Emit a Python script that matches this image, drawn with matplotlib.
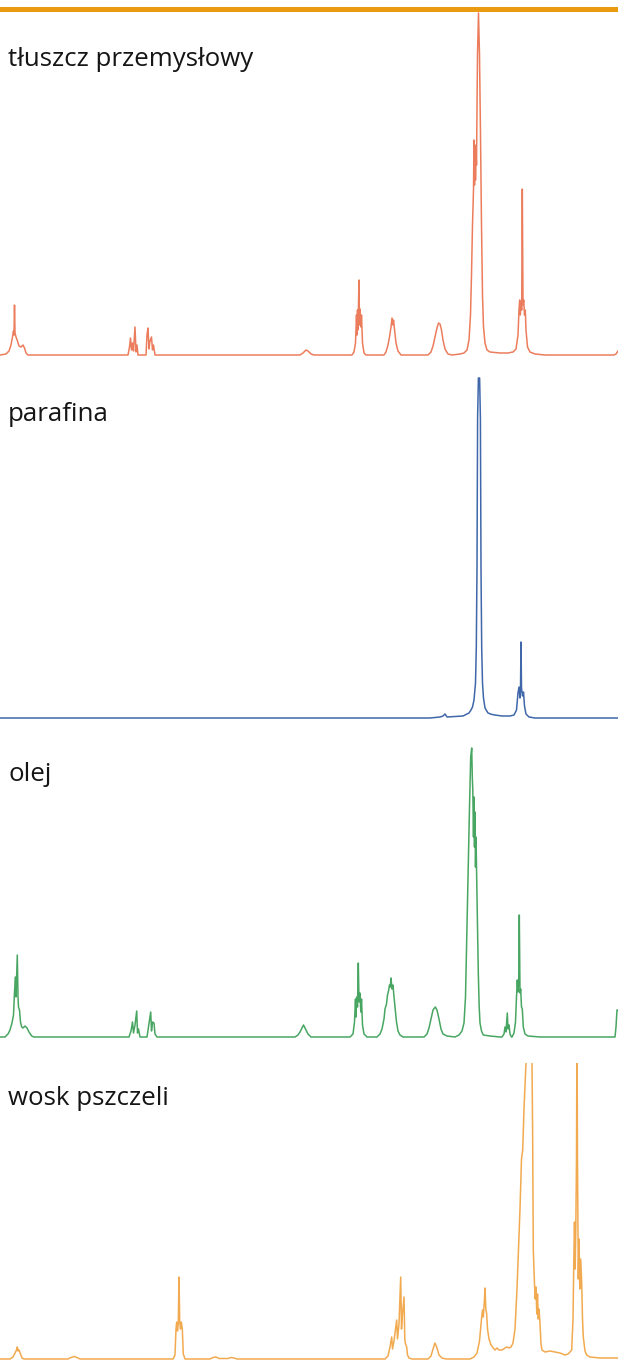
import matplotlib.pyplot as plt
from matplotlib.patches import Rectangle

# ------------------------------------------------------------
# Four 1H NMR spectra.
# x = point along the (reversed) shift axis, y = intensity above baseline
# ------------------------------------------------------------

labels = ["tłuszcz przemysłowy", "parafina", "olej", "wosk pszczeli"]

fat_x = [0, 6, 9, 11, 12.5, 13.5, 14, 14.5, 15, 16, 17.5, 19, 21, 23, 24.5, 26, 28,
         128, 129.5, 130.5, 131.5, 132.5, 133.5, 135, 136, 137, 138,
         146, 147, 148, 149, 150, 151.5, 152.5, 153.5, 155,
         300, 303, 306, 308, 311, 314,
         352, 354, 355.5, 356.5, 357, 357.5, 358, 359, 359.5, 360, 361, 361.5, 362.5, 364, 366,
         384, 386, 388, 389.5, 391, 392, 393, 393.5, 394.5, 396, 398, 401,
         428, 431, 433, 435, 437, 438.5, 440, 441.5, 443, 445, 448, 452,
         460, 464, 467, 469, 470.5, 471.5, 472.5, 473.5, 474, 474.5, 475, 475.5, 476, 476.5,
         477.5, 478.5, 479.5, 480.5, 481.5, 482.5, 483.5, 485, 487, 490, 500, 508,
         513, 516, 518, 519, 519.7, 520.3, 521, 521.7, 522.3, 523, 523.7, 524.5, 525.3, 526,
         527.5, 530, 535, 545, 614, 616, 618]
fat_y = [0, 1, 4, 10, 18, 24, 20, 50, 22, 18, 14, 9, 8, 10, 7, 2, 0,
         0, 8, 17, 5, 12, 4, 28, 3, 10, 0,
         0, 20, 27, 6, 14, 18, 5, 10, 0,
         0, 2, 5, 4, 1, 0,
         0, 3, 12, 40, 20, 45, 25, 75, 30, 46, 28, 40, 12, 2, 0,
         0, 3, 10, 18, 28, 37, 30, 35, 26, 12, 4, 0,
         0, 3, 9, 18, 27, 32, 31, 25, 15, 6, 1, 0,
         1, 2, 5, 15, 40, 80, 130, 165, 215, 170, 210, 175, 205, 190,
         300, 342, 300, 220, 130, 60, 28, 12, 5, 3, 2, 2,
         3, 6, 20, 45, 55, 40, 52, 45, 166, 50, 55, 40, 45, 25,
         8, 3, 1, 0, 0, 1, 4]

paraffin_x = [0, 430, 440, 443, 445, 447, 455, 463, 467, 469, 471, 472.5, 474, 475.5,
              476.3, 477, 477.6, 478.4, 479.6, 480.4, 481, 481.7, 482.5, 483.5, 485, 488,
              492, 495, 502, 510, 514, 516.5, 518, 519, 520, 520.5, 521, 521.5, 522.5,
              523.5, 524.5, 526, 529, 535, 618]
paraffin_y = [0, 0, 1, 2, 4, 1, 1.5, 2, 4, 5, 8, 11, 18, 35,
              70, 150, 300, 340, 340, 300, 150, 70, 35, 20, 10, 5,
              3.5, 3, 2, 2, 3, 8, 25, 31, 20, 28, 76, 30, 22,
              26, 12, 4, 1, 0, 0]

oil_x = [0, 5, 8, 10, 12, 13.5, 14.5, 15.5, 16, 16.5, 17.3, 18, 18.5, 19.5, 20.5, 21.7,
         23, 25, 27, 29, 31.7, 34,
         129, 131, 132.5, 133.5, 135, 136.7, 137.5, 138.5, 140,
         147, 148.5, 150.7, 151.5, 152.5, 154, 155, 157,
         295, 298, 300, 302, 303.5, 305, 306.5, 308, 311,
         350, 353, 354.5, 355.5, 356, 356.7, 357.5, 358.3, 359, 360, 360.8, 361.5, 362.5, 364, 367,
         377, 380, 382, 384, 385, 386.5, 387.5, 388.5, 389.5, 390.3, 391, 392, 393, 394, 395,
         396.5, 398, 400, 403,
         424, 427, 429, 431, 433, 435.3, 437, 439, 441, 443, 447,
         455, 459, 462, 464, 465.5, 466.7, 468, 469.5, 470.7, 471.7, 472.3, 472.8, 473.5, 474,
         474.5, 475, 475.5, 476, 476.7, 477.5, 478.3, 479.2, 480, 481.5, 483.3, 490, 500,
         502, 504, 505, 506, 507.3, 508, 509, 510, 511.5,
         512, 514, 515.5, 516.5, 517.3, 518, 518.7, 519.3, 520, 520.7, 521.5, 522.3, 523.3,
         525, 528, 540, 615, 616, 617, 618]
oil_y = [0, 0, 3, 7, 14, 22, 45, 60, 40, 55, 82, 40, 30, 27, 15, 10,
         9, 11, 9, 5, 1, 0,
         0, 6, 15, 4, 12, 26, 4, 8, 0,
         0, 10, 25, 6, 15, 14, 3, 0,
         0, 2, 5, 9, 12, 9, 6, 3, 0,
         0, 3, 15, 38, 20, 40, 30, 74, 35, 44, 25, 38, 12, 3, 0,
         0, 3, 8, 18, 28, 33, 42, 46, 52, 50, 59, 48, 52, 40, 30,
         15, 6, 2, 0,
         0, 3, 9, 18, 27, 30, 27, 18, 8, 3, 1,
         0, 2, 6, 14, 40, 97, 160, 230, 280, 289, 260, 247, 200, 240,
         190, 225, 170, 200, 157, 110, 64, 30, 14, 6, 2, 1, 0,
         0, 3, 10, 5, 24, 8, 12, 3, 0,
         0, 4, 15, 40, 57, 45, 55, 122, 44, 48, 30, 28, 10,
         3, 1, 0, 0, 10, 27, 27]

wax_x = [0, 10, 13, 15, 16.5, 17.3, 18, 19, 20.5, 22, 24,
         68, 71, 74, 77, 80,
         173, 175, 176, 176.7, 177.5, 178.3, 179, 179.7, 180.5, 181.3, 182.3, 183.3, 185,
         210, 213, 216, 219, 228, 231, 234, 237,
         385, 388, 390, 391.7, 392.5, 394, 395.5, 396.7, 397.5, 399, 400.7, 401.5, 402.5,
         404, 404.8, 405.5, 406.7, 407.5, 409, 412,
         428, 431, 433, 435, 437, 439, 442, 446,
         470, 474, 477, 479.5, 481.5, 482.5, 483.3, 484.2, 485, 485.8, 486.7, 487.5, 489,
         491, 493.3, 495, 497, 499, 502, 505, 507, 509, 511, 513, 515, 517, 518.5, 520,
         521.5, 522.7, 524, 526, 527.5, 530.5, 532, 532.6, 533.3, 534.5, 535.2, 536, 536.8,
         537.5, 538.3, 539, 540, 541, 542, 545, 550, 555, 560, 565, 568, 570, 571.7, 573,
         574, 574.5, 575.2, 575.8, 576.5, 577, 577.5, 578.3, 579, 579.8, 580.7, 581.7,
         582.5, 583.3, 585, 586.7, 590, 600, 618]
wax_y = [0, 0, 2, 6, 9, 12, 8, 9, 5, 1, 0,
         0, 1.5, 2.5, 1.5, 0,
         0, 4, 30, 37, 28, 36, 82, 38, 30, 37, 30, 5, 0,
         0, 1.5, 2, 0.5, 0.5, 1.5, 1, 0,
         0, 3, 12, 22, 10, 18, 30, 39, 20, 35, 82, 30, 45,
         62, 20, 15, 12, 4, 1, 0,
         0, 3, 10, 16, 11, 4, 1, 0,
         0, 2, 6, 18, 40, 49, 42, 55, 71, 50, 45, 30, 20,
         14, 11, 9, 11, 9, 9, 11, 12, 11, 12, 16, 30, 70, 110, 150,
         200, 209, 250, 296, 340, 340, 296, 230, 109, 75, 60, 72, 45,
         65, 40, 50, 36, 15, 9, 7, 8, 7, 6, 4, 5, 7, 9, 40,
         110, 137, 90, 130, 200, 340, 200, 80, 120, 70, 100, 76,
         40, 22, 8, 4, 2, 1, 1]

spectra = [(fat_x, fat_y), (paraffin_x, paraffin_y), (oil_x, oil_y), (wax_x, wax_y)]
colors = ["#EC7D5C", "#3F67AA", "#48A662", "#F2AA50"]

# ------------------------------------------------------------
# Layout (pixel rows of the 618 x 1361 picture)
# ------------------------------------------------------------
W, H = 618, 1361
panels = [  # top px, bottom px, ylim, label baseline px
    (12, 358, (-3, 343), 66),
    (370, 721, (-3, 348), 421),
    (740, 1040, (-3, 297), 781),
    (1063, 1361, (-2, 296), 1105),
]

fig = plt.figure(figsize=(W / 100, H / 100), dpi=100)
fig.patch.set_facecolor("white")

for (top, bot, ylim, lab_y), (xs, ys), col, lab in zip(panels, spectra, colors, labels):
    ax = fig.add_axes([0, 1 - bot / H, 1, (bot - top) / H])
    ax.plot(xs, ys, color=col, lw=1.1, solid_joinstyle="round")
    ax.set_xlim(0, 618)
    ax.set_ylim(*ylim)
    ax.axis("off")
    fig.text(8 / W, 1 - lab_y / H, lab, fontsize=18.6, family=["Open Sans", "DejaVu Sans"],
             color="#151515", ha="left", va="baseline")

# orange rule at the top
fig.add_artist(Rectangle((0, 1 - 12 / H), 1, 5 / H, transform=fig.transFigure,
                         facecolor="#EA9A0E", edgecolor="none"))

plt.savefig("out.png", dpi=100)
